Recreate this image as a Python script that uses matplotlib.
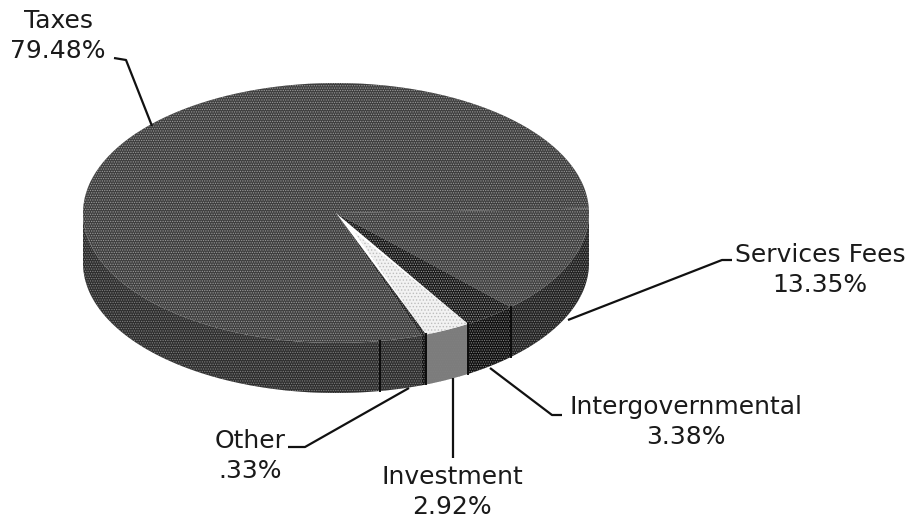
import numpy as np
import matplotlib
matplotlib.use('Agg')
import matplotlib.pyplot as plt
from matplotlib.patches import Polygon

categories = ['Services Fees', 'Intergovernmental', 'Investment', 'Other', 'Taxes']
shares = [13.35, 3.38, 2.92, 0.33, 79.48]
share_labels = ['13.35%', '3.38%', '2.92%', '.33%', '79.48%']
top_colors = ['#404040', '#181818', '#f2f2f2', '#222222', '#3e3e3e']
side_colors = ['#222222', '#101010', '#7c7c7c', '#111111', '#2e2e2e']

cx, cy = 336, 213
rx, ry = 253, 130
depth = 50
start_angle = 2

plt.rcParams['font.family'] = ['DejaVu Sans']
plt.rcParams['hatch.linewidth'] = 0.6

fig = plt.figure(figsize=(9.15, 5.2), dpi=100)
ax = fig.add_axes([0, 0, 1, 1])
ax.set_xlim(0, 915)
ax.set_ylim(520, 0)
ax.axis('off')


def arc(a1, a2, r=1.0, dy=0):
    t = np.radians(np.linspace(a1, a2, 120))
    return np.column_stack((cx + r * rx * np.cos(t), cy - r * ry * np.sin(t) + dy))


# slices run clockwise from the start angle, printed shares do not add to 100
edges = start_angle - np.cumsum([0] + shares) / sum(shares) * 360

# side walls first, only the part that faces the viewer
for i in range(len(shares)):
    a2, a1 = edges[i], edges[i + 1]
    a1, a2 = max(a1, -180), min(a2, 0)
    if a1 >= a2:
        continue
    top = arc(a1, a2)
    bottom = arc(a1, a2, dy=depth)[::-1]
    ax.add_patch(Polygon(np.vstack((top, bottom)), facecolor=side_colors[i],
                         edgecolor='#808080', hatch='.......', linewidth=0))

# seams on the wall
for a in [edges[1], edges[2], edges[3], -80]:
    p = arc(a, a)[0]
    ax.plot([p[0], p[0]], [p[1], p[1] + depth], color='#0c0c0c', lw=1.4)

# top of the pie
for i in [4, 0, 1, 3]:
    a2, a1 = edges[i], edges[i + 1]
    pts = np.vstack(([[cx, cy]], arc(a1, a2)))
    ax.add_patch(Polygon(pts, facecolor=top_colors[i], edgecolor='#9a9a9a',
                         hatch='.......', linewidth=0))

# the investment slice starts a little away from the centre
a2, a1 = edges[2], edges[3]
inner = arc((a1 + a2) / 2, (a1 + a2) / 2, r=0.16)
ax.add_patch(Polygon(np.vstack((inner, arc(a1, a2))), facecolor=top_colors[2],
                     edgecolor='#bdbdbd', hatch='.....', linewidth=0))

# leader lines
leaders = [
    [(568, 320), (722, 260), (732, 260)],
    [(490, 368), (552, 415), (562, 415)],
    [(453, 378), (453, 458)],
    [(409, 388), (305, 447), (288, 447)],
    [(152, 126), (126, 60), (114, 58)],
]
for line in leaders:
    xs, ys = zip(*line)
    ax.plot(xs, ys, color='#111111', lw=1.6, solid_capstyle='butt', zorder=1)

label_pos = [(820, 270), (686, 422), (452, 492), (250, 456), (58, 36)]
for name, share, (x, y) in zip(categories, share_labels, label_pos):
    ax.text(x, y, name + '\n' + share, ha='center', va='center', fontsize=18,
            color='#1a1a1a', linespacing=1.32)

fig.savefig('out.png', dpi=100)
